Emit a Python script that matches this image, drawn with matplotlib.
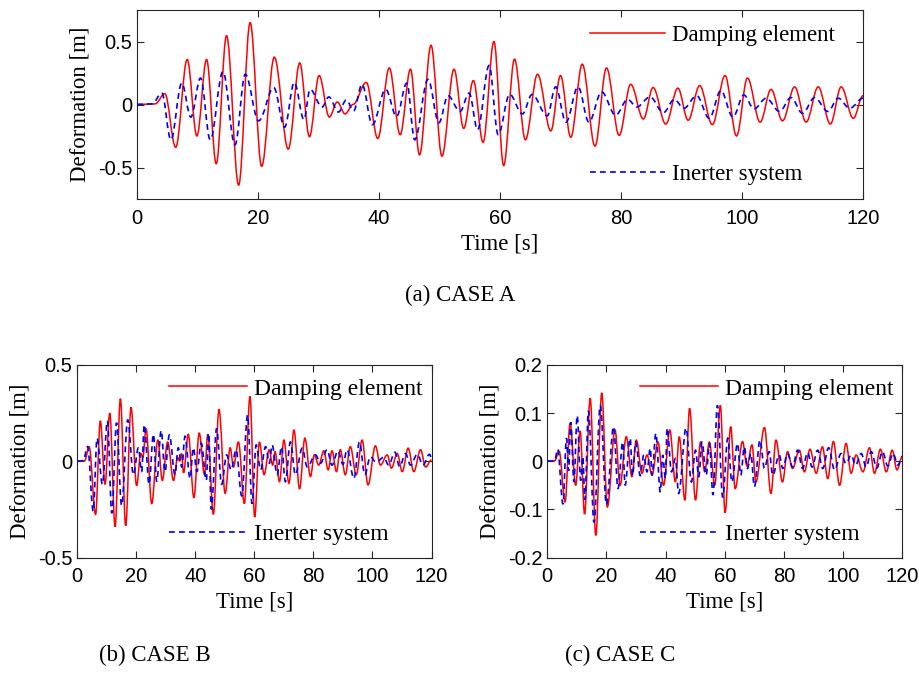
import numpy as np
import matplotlib
matplotlib.use("Agg")
import matplotlib.pyplot as plt
from matplotlib.path import Path
from matplotlib.patches import PathPatch
from matplotlib.lines import Line2D

# peaks / troughs: time [s], deformation [m]
a_red_t = [0, 3.0, 4.6, 6.4, 8.3, 9.9, 11.5, 13.1, 14.8, 16.8, 18.7, 20.6, 22.7, 25.0, 26.9, 28.5,
           30.1, 31.8, 33.1, 34.4, 35.7, 37.9, 39.8, 41.7, 43.5, 45.2, 46.7, 48.6, 50.4, 52.4, 54.0,
           55.6, 57.2, 59.0, 60.6, 62.4, 64.2, 66.2, 68.4, 70.0, 71.7, 73.6, 75.7, 77.6, 79.7, 81.6,
           83.7, 85.3, 87.4, 89.4, 91.1, 93.0, 95.1, 97.2, 99.1, 100.9, 103.0, 104.8, 106.7, 108.7,
           110.6, 112.6, 114.6, 116.4, 118.4, 120]
a_red_v = [0, 0.005, 0.086, -0.34, 0.357, -0.25, 0.357, -0.47, 0.546, -0.64, 0.65, -0.49, 0.376,
           -0.354, 0.33, -0.256, 0.23, -0.10, 0.02, -0.075, 0.0, 0.175, -0.27, 0.29, -0.24, 0.28,
           -0.40, 0.47, -0.41, 0.28, -0.19, 0.19, -0.30, 0.50, -0.485, 0.36, -0.28, 0.24, -0.21,
           0.23, -0.26, 0.32, -0.33, 0.29, -0.245, 0.16, -0.115, 0.135, -0.155, 0.13, -0.125, 0.15,
           -0.16, 0.23, -0.25, 0.21, -0.14, 0.12, -0.13, 0.14, -0.14, 0.14, -0.155, 0.14, -0.11, 0.07]
a_blue_t = [0, 2.5, 4.1, 5.6, 7.4, 8.9, 10.5, 12.1, 14.2, 16.2, 17.9, 20.1, 22.6, 24.4, 26.0, 27.6,
            28.6, 30.6, 31.7, 33.3, 34.6, 35.8, 37.2, 38.9, 41.1, 42.9, 44.6, 45.9, 48.1, 49.9, 51.4,
            53.4, 54.9, 56.3, 58.2, 59.7, 61.6, 63.7, 65.3, 67.8, 69.2, 70.9, 72.9, 74.7, 76.8, 79.1,
            81.1, 82.6, 84.8, 87.0, 88.8, 90.4, 92.5, 94.6, 96.5, 98.5, 100.3, 102.0, 104.0, 106.2,
            108.1, 110.0, 112.0, 114.2, 115.9, 117.8, 120]
a_blue_v = [0, 0.005, 0.09, -0.28, 0.17, -0.10, 0.21, -0.28, 0.26, -0.32, 0.24, -0.13, 0.134, -0.18,
            0.175, -0.12, 0.12, -0.02, 0.06, -0.06, 0.036, -0.05, 0.16, -0.16, 0.12, -0.095, 0.17,
            -0.28, 0.20, -0.145, 0.07, -0.055, 0.09, -0.20, 0.31, -0.24, 0.08, -0.075, 0.08, -0.09,
            0.14, -0.14, 0.14, -0.14, 0.10, -0.085, 0.04, -0.02, 0.06, -0.065, 0.04, -0.03, 0.07,
            -0.11, 0.11, -0.10, 0.075, -0.035, 0.05, -0.055, 0.055, -0.07, 0.055, -0.055, 0.05,
            -0.03, 0.05]

b_red_t = [0, 2.5, 4.0, 6.2, 7.8, 9.4, 11.0, 12.8, 14.6, 16.4, 18.2, 20.1, 21.5, 22.2, 23.3, 25.2,
           27.3, 28.8, 30.6, 32.6, 34.0, 34.7, 35.3, 36.0, 37.6, 39.5, 41.3, 43.1, 44.2, 46.1, 48.0,
           50.1, 51.8, 52.9, 54.6, 56.6, 58.5, 60.1, 61.7, 63.3, 65.0, 66.2, 67.0, 68.5, 70.0, 71.7,
           73.4, 75.3, 77.1, 79.0, 80.3, 81.8, 83.5, 85.0, 86.3, 87.8, 89.1, 90.8, 92.5, 94.5, 96.5,
           98.5, 101.0, 102.7, 105.0, 106.4, 108.4, 110.1, 112.1, 114.0, 116.3, 118.0, 120]
b_red_v = [0, 0.003, 0.076, -0.276, 0.21, -0.12, 0.25, -0.34, 0.325, -0.335, 0.28, -0.127, 0.04,
           0.02, 0.17, -0.22, 0.11, -0.10, 0.10, -0.10, 0.02, 0.0, 0.04, -0.06, 0.14, -0.19, 0.146,
           -0.07, 0.14, -0.276, 0.27, -0.167, 0.07, -0.03, 0.10, -0.22, 0.337, -0.29, 0.10, -0.07,
           0.06, -0.02, 0.05, -0.106, 0.11, -0.115, 0.163, -0.144, 0.12, -0.08, 0.033, -0.02, 0.054,
           -0.045, 0.054, -0.054, 0.06, -0.07, 0.076, -0.07, 0.11, -0.123, 0.08, -0.02, 0.033,
           -0.036, 0.04, -0.054, 0.068, -0.054, 0.06, -0.03, 0.007]
b_blue_t = [0, 2.0, 3.5, 5.4, 6.7, 8.5, 10.2, 11.7, 13.3, 15.0, 17.1, 19.0, 20.7, 21.8, 22.7, 24.3,
            25.8, 26.9, 28.4, 29.7, 31.2, 33.1, 34.2, 35.4, 36.5, 38.2, 39.3, 40.5, 42.0, 43.7, 44.5,
            45.4, 47.2, 48.9, 50.6, 52.1, 53.8, 55.7, 57.7, 59.2, 60.6, 62.1, 63.8, 65.1, 66.0, 67.7,
            69.2, 70.5, 72.2, 73.9, 76.2, 77.9, 80.7, 82.4, 84.6, 86.3, 88.3, 90.0, 91.4, 93.7, 95.6,
            97.4, 99.3, 101.2, 103.8, 105.5, 107.6, 109.2, 111.2, 112.9, 115.2, 117.1, 119.3, 120]
b_blue_v = [0, 0.003, 0.076, -0.26, 0.12, -0.12, 0.21, -0.27, 0.20, -0.23, 0.215, -0.07, 0.07,
            -0.055, 0.19, -0.12, 0.14, -0.105, 0.16, -0.054, 0.137, -0.07, 0.07, -0.03, 0.13, -0.09,
            0.07, -0.054, 0.094, -0.10, 0.146, -0.25, 0.17, -0.12, 0.033, -0.045, 0.06, -0.18, 0.24,
            -0.22, 0.085, -0.045, 0.076, -0.01, 0.085, -0.07, 0.076, -0.106, 0.10, -0.07, 0.068,
            -0.03, 0.033, -0.01, 0.06, -0.02, 0.054, -0.016, 0.06, -0.09, 0.10, -0.07, 0.024,
            -0.005, 0.02, -0.02, 0.047, -0.028, 0.04, -0.02, 0.036, -0.02, 0.036, 0.02]

c_red_t = [0, 2.5, 4.0, 6.0, 7.7, 9.6, 11.1, 12.6, 14.5, 16.4, 18.4, 20.3, 22.9, 24.6, 26.7, 28.6,
           30.1, 32.0, 33.7, 35.4, 37.4, 39.3, 41.4, 43.3, 44.6, 46.5, 48.1, 50.1, 51.8, 53.2, 54.8,
           56.6, 58.5, 60.1, 62.0, 63.5, 66.0, 67.5, 69.2, 70.5, 73.4, 75.6, 77.3, 79.5, 81.2, 82.9,
           85.2, 86.9, 88.8, 90.9, 93.0, 94.8, 96.7, 98.8, 101.0, 102.7, 104.4, 106.7, 108.9, 110.6,
           112.6, 114.6, 116.6, 118.2, 120]
c_red_v = [0, 0.001, 0.021, -0.085, 0.079, -0.05, 0.063, -0.11, 0.131, -0.154, 0.142, -0.095, 0.065,
           -0.05, 0.051, -0.032, 0.044, -0.025, 0.013, -0.029, 0.04, -0.05, 0.065, -0.043, 0.051,
           -0.081, 0.11, -0.081, 0.04, -0.022, 0.04, -0.05, 0.116, -0.107, 0.072, -0.057, 0.041,
           -0.01, 0.034, -0.043, 0.07, -0.067, 0.044, -0.043, 0.02, -0.015, 0.023, -0.022, 0.025,
           -0.025, 0.03, -0.036, 0.041, -0.05, 0.037, -0.025, 0.013, -0.022, 0.028, -0.025, 0.025,
           -0.022, 0.023, -0.018, 0.01]
c_blue_t = [0, 2.5, 3.5, 5.3, 6.5, 7.2, 7.9, 9.0, 10.1, 11.3, 12.0, 12.7, 13.9, 15.8, 17.9, 20.0,
            22.4, 23.9, 25.5, 26.3, 28.0, 28.8, 29.9, 31.4, 32.6, 33.7, 34.8, 35.4, 36.7, 38.2, 39.0,
            39.9, 40.5, 42.0, 43.3, 44.4, 46.9, 48.7, 50.1, 51.2, 52.3, 53.7, 54.8, 56.0, 57.5, 59.3,
            61.0, 62.4, 64.3, 65.4, 66.6, 67.7, 68.8, 70.0, 71.9, 73.4, 75.0, 76.2, 78.4, 79.6, 81.2,
            82.9, 84.6, 86.3, 88.0, 89.5, 91.4, 93.1, 95.1, 97.1, 99.3, 101.0, 102.7, 104.2, 106.1,
            107.8, 109.5, 111.4, 113.3, 115.1, 116.9, 118.5, 120]
c_blue_v = [0, 0.001, 0.025, -0.089, 0.048, -0.02, 0.081, -0.043, 0.095, -0.04, 0.01, -0.08, 0.105,
            -0.127, 0.116, -0.09, 0.072, -0.057, 0.04, -0.05, 0.048, -0.03, 0.04, -0.03, 0.013,
            -0.022, 0.027, -0.029, 0.058, -0.064, 0.013, -0.036, 0.069, -0.022, 0.006, -0.067, 0.069,
            -0.043, 0.023, -0.032, 0.04, -0.029, 0.037, -0.07, 0.116, -0.075, 0.048, -0.043, 0.037,
            -0.029, 0.03, -0.015, 0.016, -0.053, 0.044, -0.015, 0.02, -0.029, 0.013, -0.015, 0.016,
            -0.012, 0.023, -0.015, 0.018, -0.012, 0.023, -0.015, 0.028, -0.018, 0.016, -0.005, 0.013,
            -0.008, 0.016, -0.012, 0.02, -0.014, 0.02, -0.01, 0.016, -0.008, 0.01]

xticks = [0, 20, 40, 60, 80, 100, 120]
SERIF = ["Liberation Serif", "DejaVu Serif"]
SANS = ["Liberation Sans", "DejaVu Sans"]


def wave_path(t, v):
    # smooth curve through the read extremes (flat tangent at each peak)
    verts = [(t[0], v[0])]
    codes = [Path.MOVETO]
    for i in range(1, len(t)):
        dt = t[i] - t[i - 1]
        verts += [(t[i - 1] + 0.36 * dt, v[i - 1]), (t[i] - 0.36 * dt, v[i]), (t[i], v[i])]
        codes += [Path.CURVE4] * 3
    return Path(verts, codes)


def draw_panel(ax, rt, rv, bt, bv, ylim, yticks, ylabels, fs_leg, lspace, anchor):
    ax.add_patch(PathPatch(wave_path(rt, rv), fill=False, edgecolor="#ff0000", lw=1.1, zorder=2))
    ax.add_patch(PathPatch(wave_path(bt, bv), fill=False, edgecolor="#0000ee", lw=1.2,
                           linestyle=(0, (3.5, 2.5)), zorder=3))
    ax.set_xlim(0, 120)
    ax.set_ylim(*ylim)
    ax.set_xticks(xticks)
    ax.set_yticks(yticks)
    ax.set_yticklabels(ylabels)
    ax.tick_params(direction="in", top=True, right=True, length=5, width=0.8,
                   colors="#262626", labelcolor="black", labelsize=14.5)
    ax.tick_params(axis="x", pad=7)
    for lab in ax.get_xticklabels() + ax.get_yticklabels():
        lab.set_family(SANS)
    for s in ax.spines.values():
        s.set_color("#262626")
        s.set_linewidth(0.8)
    ax.set_xlabel("Time [s]", family=SERIF, fontsize=16.5, labelpad=4)
    ax.set_ylabel("Deformation [m]", family=SERIF, fontsize=16.5, labelpad=5)
    handles = [Line2D([], [], color="#ff0000", lw=1.1),
               Line2D([], [], color="#0000ee", lw=1.2, linestyle=(0, (3.5, 2.5)))]
    ax.legend(handles, ["Damping element", "Inerter system"], loc="upper right", frameon=False,
              prop={"family": SERIF, "size": fs_leg}, handlelength=3.3, handletextpad=0.3,
              labelspacing=lspace, bbox_to_anchor=anchor, borderaxespad=0, borderpad=0.3)


fig = plt.figure(figsize=(9.19, 6.77), dpi=100)

ax_a = fig.add_axes([137 / 919, 1 - 199 / 677, 726 / 919, 189 / 677])
draw_panel(ax_a, a_red_t, a_red_v, a_blue_t, a_blue_v, (-0.75, 0.75),
           [-0.5, 0, 0.5], ["-0.5", "0", "0.5"], 16.5, 5.15, (1 - 21 / 726, 1 - 8 / 189))

ax_b = fig.add_axes([77.3 / 919, 1 - 557.5 / 677, 354.2 / 919, 192.5 / 677])
draw_panel(ax_b, b_red_t, b_red_v, b_blue_t, b_blue_v, (-0.5, 0.5),
           [-0.5, 0, 0.5], ["-0.5", "0", "0.5"], 17, 5.25, (1 - 2 / 354, 1 - 6 / 192))

ax_c = fig.add_axes([547.3 / 919, 1 - 557.5 / 677, 355 / 919, 192.5 / 677])
draw_panel(ax_c, c_red_t, c_red_v, c_blue_t, c_blue_v, (-0.2, 0.2),
           [-0.2, -0.1, 0, 0.1, 0.2], ["-0.2", "-0.1", "0", "0.1", "0.2"], 17, 5.25,
           (1 - 2 / 355, 1 - 6 / 192))

fig.text(460 / 919, 1 - 295 / 677, "(a) CASE A", family=SERIF, fontsize=16.5, ha="center", va="center")
fig.text(155 / 919, 1 - 655 / 677, "(b) CASE B", family=SERIF, fontsize=16.5, ha="center", va="center")
fig.text(620 / 919, 1 - 655 / 677, "(c) CASE C", family=SERIF, fontsize=16.5, ha="center", va="center")

fig.savefig("out.png", dpi=100, facecolor="white")
